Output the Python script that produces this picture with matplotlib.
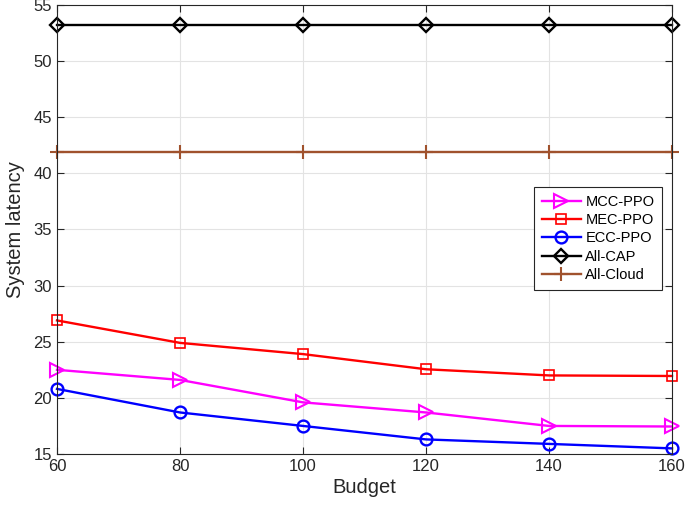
import matplotlib
matplotlib.use("Agg")
import matplotlib.pyplot as plt

plt.rcParams['font.family'] = ['Liberation Sans', 'DejaVu Sans']

budget = [60, 80, 100, 120, 140, 160]
mcc_ppo = [22.5, 21.6, 19.6, 18.7, 17.5, 17.45]
mec_ppo = [26.9, 24.9, 23.9, 22.55, 22.0, 21.95]
ecc_ppo = [20.8, 18.7, 17.5, 16.3, 15.9, 15.5]
all_cap = [53.2] * 6
all_cloud = [41.9] * 6

fig = plt.figure(figsize=(6.85, 5.07), dpi=100)
ax = fig.add_axes([57 / 685, 53 / 507, 615 / 685, 449 / 507])

lw = 1.7
ax.plot(budget, mcc_ppo, color='#ff00ff', marker='>', ms=9.5, mfc='none', mew=1.5, lw=lw, label='MCC-PPO', clip_on=False)
ax.plot(budget, mec_ppo, color='#ff0000', marker='s', ms=7, mfc='none', mew=1.2, lw=lw, label='MEC-PPO', clip_on=False)
ax.plot(budget, ecc_ppo, color='#0000ff', marker='o', ms=8.5, mfc='none', mew=1.7, lw=lw, label='ECC-PPO', clip_on=False)
ax.plot(budget, all_cap, color='black', marker='D', ms=7.5, mfc='none', mew=1.7, lw=lw, label='All-CAP', clip_on=False)
ax.plot(budget, all_cloud, color='#a0522d', marker='+', ms=10, mew=1.5, lw=lw, label='All-Cloud', clip_on=False)

ax.set_xlim(60, 160)
ax.set_ylim(15, 55)
ax.set_xticks(budget)
ax.set_yticks(range(15, 56, 5))
ax.grid(True, color='#e3e3e3', lw=0.8)
ax.set_axisbelow(True)
ax.tick_params(direction='in', length=5, labelsize=12, colors='#262626', top=True, right=True)
for s in ax.spines.values():
    s.set_color('#262626')
    s.set_linewidth(0.8)
ax.set_xlabel('Budget', fontsize=14.5, color='#262626', labelpad=3)
ax.set_ylabel('System latency', fontsize=14.5, color='#262626', labelpad=6)

leg = ax.legend(loc='center right', bbox_to_anchor=(0.995, 0.48), fontsize=10.5, fancybox=False,
                framealpha=1, edgecolor='#262626', handlelength=2.7, borderpad=0.5, labelspacing=0.3,
                handletextpad=0.3)
leg.get_frame().set_linewidth(0.8)

fig.savefig('out.png', dpi=100)
